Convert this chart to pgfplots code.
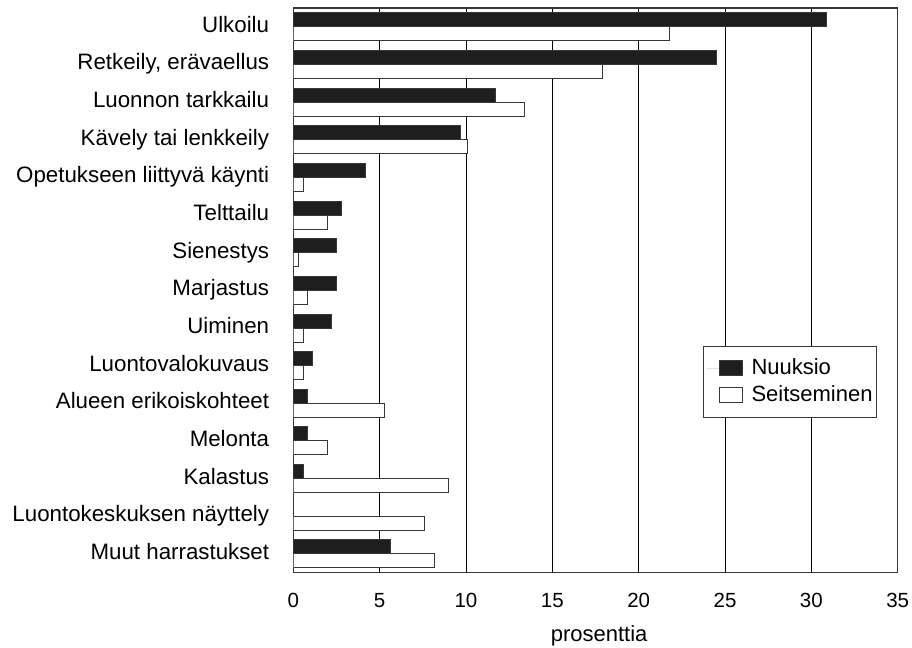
\documentclass[border=0pt]{standalone}
\usepackage{fontspec}
\setmainfont{Liberation Sans}
\usepackage{pgfplots}
\pgfplotsset{compat=1.18}
\definecolor{barblack}{RGB}{30,30,30}
\definecolor{edge}{RGB}{55,55,55}

\begin{document}
\fontsize{22bp}{26bp}\selectfont
\begin{tikzpicture}
\useasboundingbox (0,0) rectangle (912bp,648bp);
\begin{axis}[
    at={(293.3bp,75.3bp)}, anchor=south west,
    scale only axis, width=604.4bp, height=564.7bp,
    xbar, bar width=14bp,
    xmin=0, xmax=35, ymin=-0.5, ymax=14.5, y dir=reverse,
    xtick={0,5,...,35}, ytick={0,...,14},
    yticklabels={Ulkoilu, {Retkeily, erävaellus}, Luonnon tarkkailu,
        Kävely tai lenkkeily, Opetukseen liittyvä käynti, Telttailu,
        Sienestys, Marjastus, Uiminen, Luontovalokuvaus,
        Alueen erikoiskohteet, Melonta, Kalastus,
        Luontokeskuksen näyttely, Muut harrastukset},
    /pgf/number format/assume math mode=true,
    xmajorgrids, grid style={black, line width=0.8bp},
    axis line style={edge, line width=1.2bp},
    major tick length=6bp, tick align=inside,
    xtick style={black, line width=0.8bp},
    ytick style={draw=none},
    tick label style={inner sep=0pt},
    xticklabel style={anchor=base, yshift=-34.4bp, font=\fontsize{20.5bp}{24bp}\selectfont},
    yticklabel style={anchor=base east, xshift=-24bp, yshift=-5.5bp, font=\fontsize{22.3bp}{26bp}\selectfont},
    xlabel={prosenttia},
    xlabel style={at={(axis description cs:0.506,0)}, anchor=base,
        inner sep=0pt, yshift=-68.4bp, font=\fontsize{22bp}{26bp}\selectfont},
    legend style={at={(axis description cs:0.9657,0.4014)}, anchor=north east,
        draw=edge, line width=0.8bp, font=\fontsize{22bp}{26bp}\selectfont,
        inner xsep=4bp, inner ysep=12bp, row sep=8bp,
        nodes={inner sep=0pt},
        /tikz/every odd column/.append style={column sep=9bp}},
    legend cell align=left,
    legend image code/.code={%
        \draw[draw=none] (-12bp,0bp) -- (0bp,0bp);%
        \draw[#1, line width=0.8bp] (0bp,-7.5bp) rectangle (23bp,7.5bp);},
]
\addplot[draw=edge, line width=1bp, fill=barblack, bar shift=7bp] coordinates {
    (30.9,0) (24.5,1) (11.7,2) (9.7,3) (4.2,4) (2.8,5) (2.5,6) (2.5,7)
    (2.2,8) (1.1,9) (0.8,10) (0.8,11) (0.6,12) (0,13) (5.6,14)
};
\addplot[draw=edge, line width=1bp, fill=white, bar shift=-7bp] coordinates {
    (21.8,0) (17.9,1) (13.4,2) (10.1,3) (0.6,4) (2.0,5) (0.3,6) (0.8,7)
    (0.6,8) (0.6,9) (5.3,10) (2.0,11) (9.0,12) (7.6,13) (8.2,14)
};
\legend{Nuuksio, Seitseminen}
\end{axis}
\end{tikzpicture}
\end{document}
